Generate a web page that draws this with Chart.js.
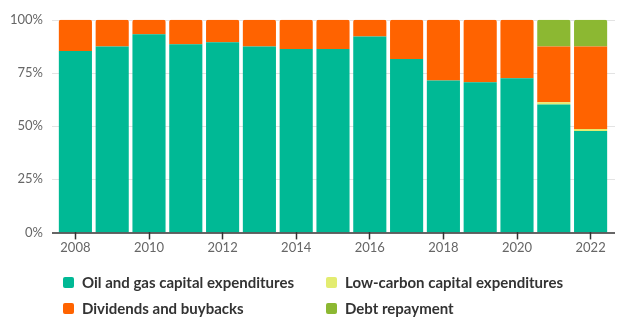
<!DOCTYPE html>
<html>
<head>
<meta charset="utf-8">
<script src="https://cdn.jsdelivr.net/npm/chart.js@4"></script>
<style>
  html, body { margin:0; padding:0; background:#fff; overflow:hidden; }
  #wrap { position:relative; width:636px; height:333px; overflow:hidden; }
  #chartBox { position:absolute; left:0; top:-2px; width:636px; height:259px; }
  #legend { position:absolute; left:0; top:0; width:636px; height:333px; pointer-events:none; }
  .item { position:absolute; display:flex; align-items:center; font-family:Lato, "Open Sans", sans-serif; font-weight:700; font-size:15px; color:#333; white-space:nowrap; }
  .sw { width:11px; height:11px; border-radius:2px; margin-right:8px; }
</style>
</head>
<body>
<div id="wrap">
  <div id="chartBox"><canvas id="c"></canvas></div>
  <div id="legend"></div>
</div>
<script>
const years = ["2008","2009","2010","2011","2012","2013","2014","2015","2016","2017","2018","2019","2020","2021","2022"];
const oilGasCapex = [85.3,87.5,93.2,88.5,89.4,87.5,86.3,86.3,92.2,81.6,71.5,70.6,72.5,60.2,47.7];
const lowCarbonCapex = [0,0,0,0,0,0,0,0,0,0,0,0,0,1.0,0.9];
const dividendsBuybacks = [14.7,12.5,6.8,11.5,10.6,12.5,13.7,13.7,7.8,18.4,28.5,29.4,27.5,26.3,38.9];
const debtRepayment = [0,0,0,0,0,0,0,0,0,0,0,0,0,12.5,12.5];
const yTicks = [0,25,50,75,100];

const seriesNames = ["Oil and gas capital expenditures","Low-carbon capital expenditures","Dividends and buybacks","Debt repayment"];
const seriesColors = ["#00b995","#e3ec70","#ff6300","#8cb832"];
const seriesData = [oilGasCapex, lowCarbonCapex, dividendsBuybacks, debtRepayment];

function topRadius(ctx) {
  const i = ctx.dataIndex, d = ctx.datasetIndex;
  for (let k = seriesData.length - 1; k >= 0; k--) {
    if (seriesData[k][i] > 0) return k === d ? {topLeft:2, topRight:2, bottomLeft:0, bottomRight:0} : 0;
  }
  return 0;
}

const gridPlugin = {
  id: 'gridPlugin',
  beforeDatasetsDraw(chart) {
    const {ctx, chartArea, scales} = chart;
    ctx.save();
    ctx.strokeStyle = '#e3e3e3';
    ctx.lineWidth = 1;
    yTicks.forEach(v => {
      if (v === 0) return;
      const y = Math.round(scales.y.getPixelForValue(v)) + 0.5;
      ctx.beginPath();
      ctx.moveTo(chartArea.left - 5, y);
      ctx.lineTo(chartArea.right + 6, y);
      ctx.stroke();
    });
    ctx.restore();
  },
  afterDatasetsDraw(chart) {
    const {ctx, chartArea, scales} = chart;
    ctx.save();
    ctx.strokeStyle = '#333';
    ctx.lineWidth = 1.5;
    const y = scales.y.getPixelForValue(0) + 0.5;
    ctx.beginPath();
    ctx.moveTo(chartArea.left - 5, y);
    ctx.lineTo(chartArea.right + 6, y);
    ctx.stroke();
    ctx.restore();
  }
};

const chart = new Chart(document.getElementById('c'), {
  type: 'bar',
  data: {
    labels: years,
    datasets: seriesNames.map((n, k) => ({
      label: n,
      data: seriesData[k],
      backgroundColor: seriesColors[k],
      borderWidth: 0,
      borderRadius: topRadius,
      borderSkipped: false,
      barPercentage: 0.9,
      categoryPercentage: 1.0
    }))
  },
  options: {
    responsive: true,
    maintainAspectRatio: false,
    animation: false,
    layout: { padding: { left: 0, right: 27, top: 7.5, bottom: 0 } },
    plugins: { legend: { display: false }, tooltip: { enabled: false } },
    scales: {
      x: {
        stacked: true,
        offset: true,
        grid: {
          display: true,
          drawOnChartArea: false,
          offset: false,
          tickLength: 7,
          tickWidth: 1.5,
          tickColor: c => (c.index % 2 === 0 ? '#333' : 'rgba(0,0,0,0)')
        },
        border: { display: false },
        ticks: {
          autoSkip: false,
          maxRotation: 0,
          padding: 1,
          color: '#666',
          font: { family: 'Lato', size: 13 },
          callback: function(v, i) { return i % 2 === 0 ? this.getLabelForValue(v) : ''; }
        }
      },
      y: {
        stacked: true,
        min: 0,
        max: 100,
        afterBuildTicks: s => { s.ticks = yTicks.map(v => ({value: v})); },
        afterFit: s => { s.width = 57; },
        grid: { display: false, drawTicks: false },
        border: { display: false },
        ticks: {
          padding: 14,
          color: '#666',
          font: { family: 'Lato', size: 13 },
          callback: v => v + '%'
        }
      }
    }
  },
  plugins: [gridPlugin]
});

// HTML legend built from the chart datasets
const legendEl = document.getElementById('legend');
const pos = [[63,282],[326,282],[63,308],[326,308]];
chart.data.datasets.forEach((ds, k) => {
  const it = document.createElement('div');
  it.className = 'item';
  it.style.left = pos[k][0] + 'px';
  it.style.top = (pos[k][1] - 10) + 'px';
  it.style.height = '20px';
  const sw = document.createElement('span');
  sw.className = 'sw';
  sw.style.background = ds.backgroundColor;
  const tx = document.createElement('span');
  tx.textContent = ds.label;
  it.appendChild(sw); it.appendChild(tx);
  legendEl.appendChild(it);
});
</script>
</body>
</html>
